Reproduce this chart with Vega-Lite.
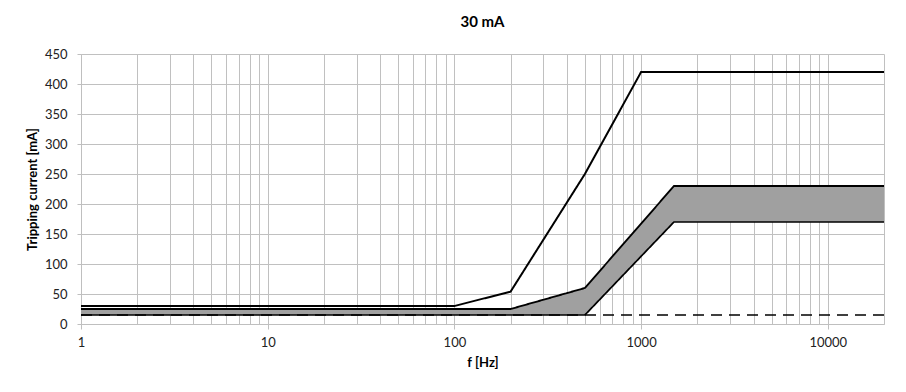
{
  "$schema": "https://vega.github.io/schema/vega-lite/v6.json",
  "width": 803,
  "height": 270,
  "padding": {"left": 26, "top": 15, "right": 19, "bottom": 5},
  "autosize": {"type": "pad"},
  "background": "white",
  "title": {"text": "30 mA", "fontSize": 15, "fontWeight": "bold", "color": "#000000", "offset": 18, "anchor": "middle", "font": "Lato"},
  "data": {"values": [
    {"k": "band", "f": 1, "y": 25, "lo": 15},
    {"k": "band", "f": 200, "y": 25, "lo": 15},
    {"k": "band", "f": 500, "y": 60, "lo": 15},
    {"k": "band", "f": 1500, "y": 230, "lo": 170},
    {"k": "band", "f": 20000, "y": 230, "lo": 170},
    {"k": "line", "s": "upper", "f": 1, "y": 30},
    {"k": "line", "s": "upper", "f": 100, "y": 30},
    {"k": "line", "s": "upper", "f": 200, "y": 54},
    {"k": "line", "s": "upper", "f": 500, "y": 250},
    {"k": "line", "s": "upper", "f": 1000, "y": 420},
    {"k": "line", "s": "upper", "f": 20000, "y": 420},
    {"k": "line", "s": "bandTop", "f": 1, "y": 25},
    {"k": "line", "s": "bandTop", "f": 200, "y": 25},
    {"k": "line", "s": "bandTop", "f": 500, "y": 60},
    {"k": "line", "s": "bandTop", "f": 1500, "y": 230},
    {"k": "line", "s": "bandTop", "f": 20000, "y": 230},
    {"k": "line", "s": "bandBot", "f": 1, "y": 15},
    {"k": "line", "s": "bandBot", "f": 500, "y": 15},
    {"k": "line", "s": "bandBot", "f": 1500, "y": 170},
    {"k": "line", "s": "bandBot", "f": 20000, "y": 170},
    {"k": "line", "s": "dash", "f": 1, "y": 15},
    {"k": "line", "s": "dash", "f": 20000, "y": 15}
  ]},
  "encoding": {
    "x": {
      "field": "f", "type": "quantitative",
      "scale": {"type": "log", "domain": [1, 20000], "nice": false},
      "axis": {
        "title": "f [Hz]",
        "values": [1,2,3,4,5,6,7,8,9,10,20,30,40,50,60,70,80,90,100,200,300,400,500,600,700,800,900,1000,2000,3000,4000,5000,6000,7000,8000,9000,10000,20000],
        "labelExpr": "indexof([1,10,100,1000,10000], datum.value) >= 0 ? format(datum.value, 'd') : ''",
        "tickOpacity": {"condition": {"test": "indexof([1,10,100,1000,10000], datum.value) < 0", "value": 0}, "value": 1},
        "tickSize": 5,
        "labelPadding": 7,
        "titlePadding": 7,
        "labelFlush": false,
        "labelOverlap": false
      }
    },
    "y": {
      "field": "y", "type": "quantitative",
      "scale": {"domain": [0, 450], "nice": false},
      "axis": {
        "title": "Tripping current [mA]",
        "values": [0,50,100,150,200,250,300,350,400,450],
        "tickSize": 4,
        "labelPadding": 10,
        "titlePadding": 5
      }
    }
  },
  "layer": [
    {
      "transform": [{"filter": "datum.k == 'band'"}],
      "mark": {"type": "area", "color": "#a0a0a0", "opacity": 1},
      "encoding": {"y2": {"field": "lo"}}
    },
    {
      "transform": [{"filter": "datum.k == 'line'"}],
      "mark": {"type": "line", "color": "#000000"},
      "encoding": {
        "detail": {"field": "s"},
        "strokeDash": {"field": "s", "type": "nominal", "scale": {"domain": ["upper", "bandTop", "bandBot", "dash"], "range": [[1, 0], [1, 0], [1, 0], [11, 7]]}, "legend": null},
        "strokeWidth": {"field": "s", "type": "nominal", "scale": {"domain": ["upper", "bandTop", "bandBot", "dash"], "range": [2, 1.6, 1.6, 2]}, "legend": null}
      }
    }
  ],
  "config": {
    "font": "Lato",
    "view": {"stroke": null},
    "axis": {
      "grid": true,
      "gridColor": "#c0c0c0",
      "gridWidth": 1,
      "domainColor": "#bfbfbf",
      "tickColor": "#bfbfbf",
      "labelFont": "Lato",
      "labelFontSize": 13,
      "labelColor": "#222222",
      "titleFont": "Lato",
      "titleFontSize": 13,
      "titleFontWeight": "bold",
      "titleColor": "#000000"
    }
  }
}
